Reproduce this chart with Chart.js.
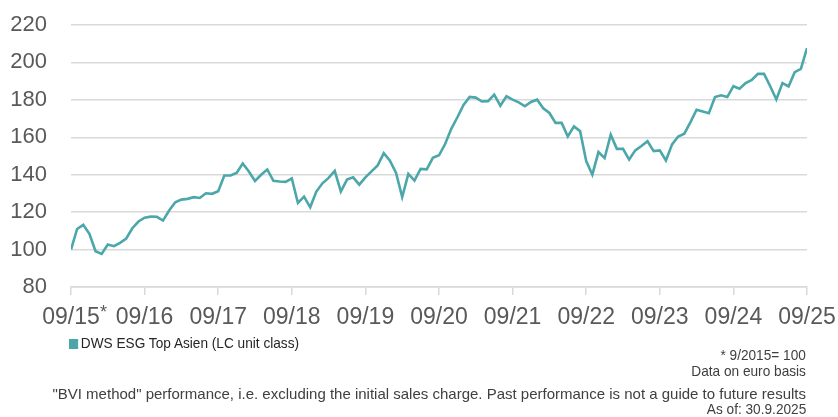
<!DOCTYPE html>
<html>
<head>
<meta charset="utf-8">
<script src="https://cdn.jsdelivr.net/npm/chart.js@4.4.1/dist/chart.umd.min.js"></script>
<style>
  body { margin: 0; background: #fff; }
  #wrap { position: relative; width: 838px; height: 417px; overflow: hidden; font-family: "Liberation Sans", Arial, sans-serif; }
  #grafica { position: absolute; left: 0; top: 0; }
  .txt { position: absolute; font-size: 15px; line-height: 17px; color: #404040; white-space: nowrap; }
  .dreta { right: 32px; text-align: right; }
  .estreta { transform: scaleX(0.91); transform-origin: right center; }
  #llegenda { left: 69px; top: 334px; color: #262626; transform: scaleX(0.91); transform-origin: left center; }
  #llegenda span { display: inline-block; width: 10px; height: 10px; background: #4ba7a9; margin-right: 3px; vertical-align: -1px; }
</style>
</head>
<body>
<div id="wrap">
  <canvas id="grafica" width="838" height="417"></canvas>
  <div class="txt" id="llegenda"><span></span>DWS ESG Top Asien (LC unit class)</div>
  <div class="txt dreta estreta" style="top:346px">* 9/2015= 100</div>
  <div class="txt dreta estreta" style="top:362px">Data on euro basis</div>
  <div class="txt dreta" style="top:385px">"BVI method" performance, i.e. excluding the initial sales charge. Past performance is not a guide to future results</div>
  <div class="txt dreta estreta" style="top:400px">As of: 30.9.2025</div>
</div>
<script>
// valors mensuals 09/2015 - 09/2025 (9/2015 = 100)
const tickLabels = ["09/15", "09/16", "09/17", "09/18", "09/19", "09/20", "09/21", "09/22", "09/23", "09/24", "09/25"];
const seriesName = "DWS ESG Top Asien (LC unit class)";
const values = [
  100, 111, 113.2, 108.4, 99.1, 97.7, 102.7, 101.8, 103.6, 105.9, 111.4, 115,
  117, 117.6, 117.5, 115.5, 120.9, 125.3, 126.7, 127.1, 128, 127.6, 130.1, 129.8,
  131.2, 139.6, 139.6, 141, 146, 141.7, 136.7, 140, 142.8, 136.7, 136.4, 136.2,
  138, 124.9, 128.3, 122.6, 131, 135.4, 138.3, 142, 131, 137.4, 138.6, 134.7,
  138.6, 141.8, 145, 151.5, 147.5, 141, 128, 140.4, 136.9, 143.1, 142.9, 149,
  150.4, 156.4, 164.5, 170.7, 177.3, 181.6, 181.2, 179.1, 179.3, 182.8, 176.9, 181.9,
  180.1, 178.7, 176.6, 178.9, 180.1, 175.5, 173, 167.7, 167.7, 160.4, 165.8, 163.3,
  147.3, 140, 152.1, 148.9, 161.4, 153.8, 153.8, 148.1, 153, 155.3, 157.9, 152.6,
  153, 147.6, 156.2, 160.4, 161.9, 168.1, 174.7, 173.8, 172.9, 181.5, 182.4, 181.5,
  187.3, 185.9, 189, 190.7, 193.9, 193.9, 187.3, 180.2, 189, 187.2, 194.8, 196.6,
  207.6
];

const gris = "#d9d9d9";
const textGris = "#595959";

// asterisc petit al costat de 09/15
const asterisc = {
  id: "asterisc",
  afterDraw(chart) {
    const ctx = chart.ctx;
    const x = chart.scales.x.getPixelForValue(0);
    ctx.save();
    ctx.font = "18px 'Liberation Sans', Arial, sans-serif";
    ctx.fillStyle = textGris;
    ctx.textBaseline = "alphabetic";
    ctx.fillText("*", x + 29, 318);
    ctx.restore();
  }
};

const data = {
  datasets: [{
    label: seriesName,
    data: values.map((v, i) => ({ x: i, y: v })),
    borderColor: "#4ba7a9",
    borderWidth: 2.6,
    pointRadius: 0,
    tension: 0,
    fill: false
  }]
};

const config = {
  type: "line",
  data: data,
  options: {
    responsive: false,
    animation: false,
    layout: { padding: { top: 25, right: 31, left: 0, bottom: 0 } },
    plugins: { legend: { display: false }, tooltip: { enabled: false } },
    scales: {
      x: {
        type: "linear",
        min: 0,
        max: 120,
        // mida fixa de l'eix i sense marges extra per les etiquetes
        afterFit: (s) => { s.height = 130; s.paddingLeft = 0; s.paddingRight = 0; },
        ticks: {
          stepSize: 12,
          autoSkip: false,
          maxRotation: 0,
          padding: 9,
          color: textGris,
          font: { family: "'Liberation Sans', Arial, sans-serif", size: 23 },
          callback: (v) => tickLabels[v / 12]
        },
        grid: { drawOnChartArea: false, drawTicks: true, tickLength: 8, color: gris, lineWidth: 1.5 },
        border: { display: true, color: gris, width: 1.5 }
      },
      y: {
        min: 80,
        max: 220,
        afterFit: (s) => { s.width = 71; s.paddingTop = 0; s.paddingBottom = 0; },
        ticks: {
          stepSize: 20,
          padding: 24,
          color: textGris,
          font: { family: "'Liberation Sans', Arial, sans-serif", size: 22 }
        },
        grid: { color: gris, lineWidth: 1.5, drawTicks: false },
        border: { display: false }
      }
    }
  },
  plugins: [asterisc]
};

const grafica = document.getElementById("grafica");
let myChart = new Chart(grafica, config);
</script>
</body>
</html>
